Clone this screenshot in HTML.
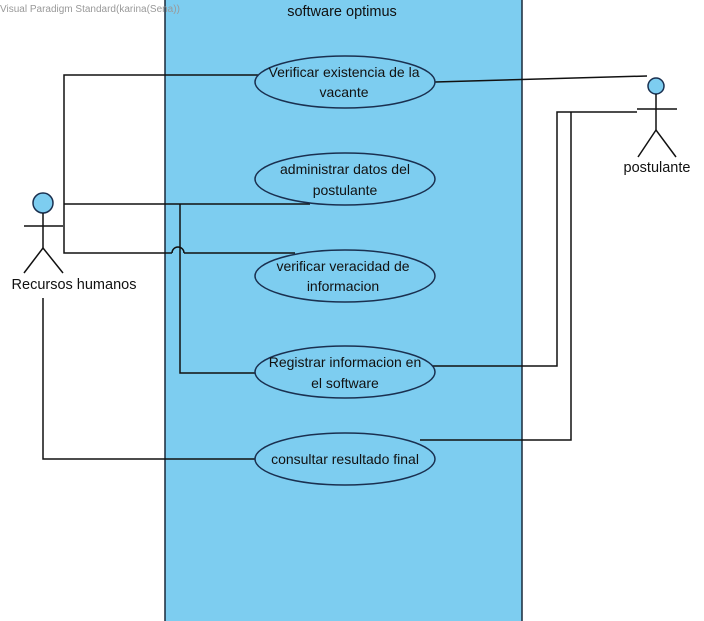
<!DOCTYPE html>
<html><head><style>
body{margin:0;background:#fff;width:704px;height:621px;overflow:hidden}
svg{display:block}
text{font-family:"Liberation Sans",Arial,sans-serif;fill:#111}
</style></head><body>
<svg width="704" height="621" viewBox="0 0 704 621">
<rect x="165" y="-2" width="357" height="630" fill="#7dcdf0" stroke="#1a2a3a" stroke-width="1.5"/>
<text x="0" y="12" font-size="10" fill="#999" style="fill:#999">Visual Paradigm Standard(karina(Sena))</text>
<text x="342" y="16" font-size="14.5" text-anchor="middle">software optimus</text>
<g fill="none" stroke="#111" stroke-width="1.5">
<polyline points="258,75 64,75 64,253 172,253"/>
<path d="M172,253 a6,6 0 0 1 12,0"/>
<line x1="184" y1="253" x2="295" y2="253"/>
<line x1="64" y1="204" x2="310" y2="204"/>
<polyline points="180,204 180,373 255,373"/>
<polyline points="43,298 43,459 255,459"/>
<line x1="435" y1="82" x2="647" y2="76"/>
<polyline points="637,112 557,112 557,366 430,366"/>
<polyline points="571,112 571,440 420,440"/>
</g>
<g fill="#7dcdf0" stroke="#1a3050" stroke-width="1.5">
<ellipse cx="345" cy="82" rx="90" ry="26"/>
<ellipse cx="345" cy="179" rx="90" ry="26"/>
<ellipse cx="345" cy="276" rx="90" ry="26"/>
<ellipse cx="345" cy="372" rx="90" ry="26"/>
<ellipse cx="345" cy="459" rx="90" ry="26"/>
</g>
<g font-size="14" text-anchor="middle">
<text x="344" y="77">Verificar existencia de la</text><text x="344" y="97">vacante</text>
<text x="345" y="174">administrar datos del</text><text x="345" y="195">postulante</text>
<text x="343" y="271">verificar veracidad de</text><text x="343" y="291">informacion</text>
<text x="345" y="367">Registrar informacion en</text><text x="345" y="388">el software</text>
<text x="345" y="464">consultar resultado final</text>
</g>
<g stroke="#111" stroke-width="1.5" fill="none">
<circle cx="43" cy="203" r="10" fill="#7dcdf0" stroke="#1a3050"/>
<line x1="43" y1="213" x2="43" y2="248"/><line x1="24" y1="226" x2="63" y2="226"/>
<polyline points="24,273 43,248 63,273"/>
<circle cx="656" cy="86" r="8" fill="#7dcdf0" stroke="#1a3050"/>
<line x1="656" y1="94" x2="656" y2="130"/><line x1="637" y1="109" x2="677" y2="109"/>
<polyline points="638,157 656,130 676,157"/>
</g>
<text x="74" y="289" font-size="14.5" text-anchor="middle">Recursos humanos</text>
<text x="657" y="172" font-size="14.5" text-anchor="middle">postulante</text>
</svg>
</body></html>
